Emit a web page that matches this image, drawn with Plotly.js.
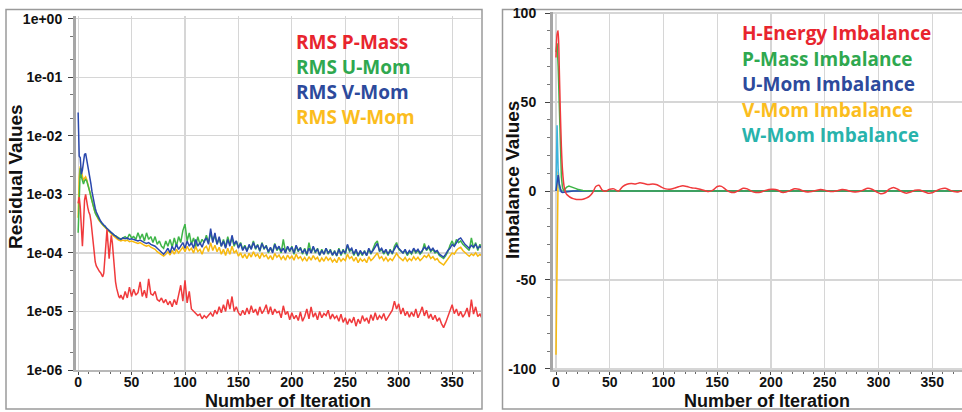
<!DOCTYPE html>
<html>
<head>
<meta charset="utf-8">
<script src="https://cdn.plot.ly/plotly-3.0.1.min.js"></script>
<style>html,body{margin:0;padding:0;background:#fff;}#chart{width:962px;height:412px;}</style>
</head>
<body>
<div id="chart"></div>
<script>
// ---------- Left panel: RMS residuals ----------
const iterL = [0,1,2,3,4,5,6,7,8,9,10,11,12,13,14,15,16,17,18,19,20,21,22,23,24,25,26,27,28,29,30,31,32,33,34,35,36,37,38,39,40,
42,44,46,48,50,52,54,56,58,60,
62,64,66,68,70,72,74,76,78,80,
82,84,86,88,90,92,94,96,98,100,
102,104,106,108,110,112,114,116,118,120,
122,124,126,128,130,132,134,136,138,140,
142,144,146,148,150,152,154,156,158,160,
162,164,166,168,170,172,174,176,178,180,
182,184,186,188,190,192,194,196,198,200,
202,204,206,208,210,212,214,216,218,220,
222,224,226,228,230,232,234,236,238,240,
242,244,246,248,250,252,254,256,258,260,
262,264,266,268,270,272,274,276,278,280,
282,284,286,288,290,292,294,296,298,300,
302,304,306,308,310,312,314,316,318,320,
322,324,326,328,330,332,334,336,338,340,
342,344,346,348,350,352,354,356,358,360,
362,364,366,368,370,372,374,376,378];

const rmsPMass = [7e-4,9e-4,6e-4,2.5e-4,1.3e-4,3e-4,8e-4,1.0e-3,7e-4,6e-4,
5e-4,4.5e-4,3.5e-4,2.2e-4,1.3e-4,9e-5,7e-5,6e-5,5.5e-5,5e-5,
4.8e-5,4.6e-5,4.2e-5,3.9e-5,4.5e-5,9e-5,1.6e-4,2.5e-4,1.4e-4,8e-5,
1.3e-4,2.0e-4,1.5e-4,8e-5,4.5e-5,3.2e-5,2.5e-5,2.0e-5,1.8e-5,1.7e-5,
1.9e-5,
1.6e-5,2.2e-5,1.7e-5,2.6e-5,1.8e-5,2.4e-5,1.9e-5,2.1e-5,3.2e-5,1.8e-5,
2.3e-5,1.7e-5,3.6e-5,2.0e-5,1.9e-5,2.2e-5,1.6e-5,1.5e-5,1.7e-5,1.4e-5,
1.6e-5,1.3e-5,1.5e-5,1.2e-5,1.6e-5,1.3e-5,1.9e-5,2.8e-5,1.5e-5,3.4e-5,
1.4e-5,2.2e-5,1.1e-5,1.0e-5,9.5e-6,8.5e-6,9e-6,7.5e-6,8.5e-6,7.8e-6,
8.6e-6,9.5e-6,8.2e-6,1.05e-5,9e-6,1.2e-5,9.5e-6,1.3e-5,1.0e-5,1.6e-5,
1.1e-5,1.8e-5,1.0e-5,1.2e-5,9.5e-6,8.5e-6,1.05e-5,8.8e-6,1.15e-5,9e-6,
1.25e-5,9.5e-6,1.1e-5,8.6e-6,1.2e-5,9.2e-6,1.05e-5,1.3e-5,9e-6,1.2e-5,
8.8e-6,1.1e-5,9.5e-6,1.0e-5,7.8e-6,1.25e-5,8.8e-6,1.0e-5,7.2e-6,9.5e-6,
7.5e-6,8.6e-6,7e-6,9.8e-6,6.8e-6,8.2e-6,1.1e-5,7.5e-6,1.2e-5,8e-6,
9.5e-6,7.2e-6,1.0e-5,7.8e-6,9.2e-6,8.5e-6,1.05e-5,7.4e-6,9e-6,7.6e-6,
8.4e-6,6.8e-6,9e-6,6.5e-6,7.8e-6,6e-6,7.5e-6,6.4e-6,8e-6,5.6e-6,
7.4e-6,6.2e-6,8.5e-6,6.8e-6,7.8e-6,6.2e-6,8.8e-6,7e-6,9.5e-6,7.2e-6,
8.5e-6,7.6e-6,9.2e-6,7e-6,8e-6,9e-6,1.05e-5,1.5e-5,1.1e-5,1.35e-5,
9e-6,1.15e-5,8.5e-6,1.0e-5,8e-6,9.8e-6,8.2e-6,1.1e-5,7.8e-6,9.5e-6,
1.2e-5,8.4e-6,1.05e-5,7.6e-6,9e-6,7.2e-6,8.6e-6,6.8e-6,7.8e-6,6.2e-6,
5.3e-6,6.5e-6,8.2e-6,9.5e-6,1.3e-5,9.2e-6,1.1e-5,8.4e-6,1.0e-5,8e-6,
9.2e-6,1.15e-5,8e-6,1.6e-5,9e-6,1.2e-5,8.2e-6,9e-6,7.6e-6];

const rmsUMom = [2.2e-4,1.5e-3,2.8e-3,2.0e-3,1.6e-3,1.5e-3,1.7e-3,1.8e-3,1.7e-3,1.5e-3,
1.3e-3,1.1e-3,9e-4,7.5e-4,6.2e-4,5.4e-4,4.8e-4,4.4e-4,4.1e-4,3.8e-4,
3.6e-4,3.4e-4,3.2e-4,3.05e-4,2.95e-4,2.85e-4,2.75e-4,2.6e-4,2.5e-4,2.4e-4,
2.3e-4,2.2e-4,2.15e-4,2.05e-4,2.0e-4,1.95e-4,1.9e-4,1.85e-4,1.8e-4,1.75e-4,
1.72e-4,
1.8e-4,1.9e-4,1.75e-4,2.1e-4,1.8e-4,1.9e-4,1.7e-4,2.2e-4,1.75e-4,2.1e-4,
1.6e-4,2.2e-4,1.7e-4,1.9e-4,1.5e-4,1.9e-4,1.4e-4,1.6e-4,1.3e-4,1.2e-4,
1.6e-4,1.3e-4,1.7e-4,1.25e-4,1.8e-4,1.3e-4,1.9e-4,1.5e-4,2.4e-4,3.1e-4,
1.6e-4,2.2e-4,1.4e-4,1.8e-4,1.3e-4,1.9e-4,1.4e-4,1.7e-4,1.5e-4,2.0e-4,
1.5e-4,2.2e-4,1.6e-4,2.0e-4,1.4e-4,1.8e-4,1.3e-4,1.7e-4,1.25e-4,1.9e-4,
1.4e-4,1.8e-4,1.3e-4,1.6e-4,1.25e-4,1.5e-4,1.15e-4,1.35e-4,1.1e-4,1.3e-4,
1.2e-4,1.6e-4,1.15e-4,1.4e-4,1.05e-4,1.5e-4,1.15e-4,1.35e-4,1.0e-4,1.2e-4,
1.05e-4,1.45e-4,1.1e-4,1.25e-4,1.0e-4,1.7e-4,1.05e-4,1.25e-4,1.05e-4,1.3e-4,
9.5e-5,1.3e-4,1.05e-4,1.25e-4,9.5e-5,1.2e-4,9e-5,1.5e-4,1.0e-4,1.25e-4,
1.0e-4,1.2e-4,9e-5,1.15e-4,9.5e-5,1.2e-4,9.5e-5,1.15e-4,9e-5,1.1e-4,
8.8e-5,1.2e-4,9e-5,1.15e-4,9.5e-5,1.35e-4,1.05e-4,1.15e-4,9e-5,1.1e-4,
8.8e-5,1.05e-4,9e-5,1.1e-4,9e-5,1.15e-4,9.5e-5,1.2e-4,1.45e-4,1.6e-4,
1.05e-4,1.15e-4,9.5e-5,1.1e-4,9e-5,1.15e-4,9.5e-5,1.3e-4,1.5e-4,1.15e-4,
1.05e-4,1.0e-4,1.1e-4,9e-5,1.05e-4,9.5e-5,1.15e-4,1.0e-4,1.1e-4,9.5e-5,
1.05e-4,1.45e-4,1.1e-4,1.25e-4,1.05e-4,1.15e-4,1.0e-4,1.05e-4,9e-5,8.5e-5,
8e-5,9e-5,1.05e-4,1.35e-4,1.6e-4,1.3e-4,1.7e-4,1.5e-4,1.6e-4,1.4e-4,
1.3e-4,1.2e-4,1.1e-4,1.8e-4,1.2e-4,1.5e-4,1.1e-4,1.4e-4,1.15e-4];

const rmsVMom = [2.5e-2,4.5e-3,4.2e-3,2.2e-3,2.6e-3,3.8e-3,4.8e-3,5.0e-3,4.0e-3,3.0e-3,
2.4e-3,2.0e-3,1.5e-3,1.1e-3,8.5e-4,7.0e-4,5.8e-4,5.0e-4,4.5e-4,4.1e-4,
3.8e-4,3.5e-4,3.3e-4,3.1e-4,3.0e-4,2.9e-4,2.8e-4,2.6e-4,2.5e-4,2.4e-4,
2.3e-4,2.2e-4,2.1e-4,2.05e-4,2.0e-4,1.95e-4,1.85e-4,1.8e-4,1.75e-4,1.72e-4,
1.7e-4,
1.8e-4,1.75e-4,1.8e-4,1.7e-4,1.75e-4,1.7e-4,1.65e-4,1.6e-4,1.65e-4,1.55e-4,
1.5e-4,1.45e-4,1.5e-4,1.4e-4,1.35e-4,1.3e-4,1.2e-4,1.1e-4,1.0e-4,9.5e-5,
1.05e-4,1.2e-4,1.0e-4,1.3e-4,1.1e-4,1.4e-4,1.15e-4,1.3e-4,1.5e-4,1.2e-4,
1.6e-4,1.3e-4,1.5e-4,1.2e-4,1.7e-4,1.3e-4,1.5e-4,1.25e-4,1.6e-4,1.8e-4,
1.4e-4,2.6e-4,1.5e-4,2.2e-4,1.4e-4,1.9e-4,1.3e-4,1.6e-4,1.2e-4,1.7e-4,
1.3e-4,2.0e-4,1.4e-4,1.6e-4,1.2e-4,1.45e-4,1.1e-4,1.3e-4,1.05e-4,1.4e-4,
1.15e-4,1.5e-4,1.2e-4,1.35e-4,1.1e-4,1.45e-4,1.2e-4,1.3e-4,1.05e-4,1.25e-4,
1.0e-4,1.4e-4,1.15e-4,1.3e-4,1.05e-4,1.2e-4,1.0e-4,1.3e-4,1.1e-4,1.25e-4,
1.0e-4,1.35e-4,1.1e-4,1.2e-4,1.0e-4,1.15e-4,9.5e-5,1.2e-4,1.0e-4,1.3e-4,
1.05e-4,1.15e-4,9.2e-5,1.1e-4,9.5e-5,1.2e-4,1.0e-4,1.1e-4,9.2e-5,1.05e-4,
9e-5,1.15e-4,9.5e-5,1.1e-4,1.0e-4,1.4e-4,1.1e-4,1.2e-4,9.5e-5,1.15e-4,
9e-5,1.1e-4,9.5e-5,1.05e-4,9e-5,1.2e-4,1.0e-4,1.1e-4,1.3e-4,1.45e-4,
1.1e-4,1.2e-4,1.0e-4,1.15e-4,9.5e-5,1.1e-4,1.0e-4,1.2e-4,1.35e-4,1.2e-4,
1.1e-4,1.0e-4,1.15e-4,9.5e-5,1.1e-4,1.0e-4,1.2e-4,1.05e-4,1.15e-4,1.0e-4,
1.1e-4,1.25e-4,1.15e-4,1.3e-4,1.1e-4,1.2e-4,1.05e-4,1.1e-4,9.5e-5,9e-5,
8.5e-5,9.5e-5,1.1e-4,1.2e-4,1.4e-4,1.3e-4,1.5e-4,1.7e-4,1.8e-4,1.55e-4,
1.4e-4,1.3e-4,1.2e-4,1.35e-4,1.25e-4,1.4e-4,1.2e-4,1.3e-4,1.2e-4];

const rmsWMom = [4e-4,2.0e-3,3.0e-3,2.4e-3,1.9e-3,1.7e-3,1.9e-3,2.0e-3,1.8e-3,1.5e-3,
1.3e-3,1.1e-3,9.5e-4,7.8e-4,6.4e-4,5.5e-4,4.9e-4,4.4e-4,4.0e-4,3.7e-4,
3.5e-4,3.3e-4,3.1e-4,2.95e-4,2.85e-4,2.75e-4,2.65e-4,2.5e-4,2.4e-4,2.3e-4,
2.2e-4,2.1e-4,2.0e-4,1.95e-4,1.9e-4,1.85e-4,1.75e-4,1.7e-4,1.65e-4,1.6e-4,
1.6e-4,
1.65e-4,1.6e-4,1.65e-4,1.55e-4,1.6e-4,1.55e-4,1.5e-4,1.45e-4,1.5e-4,1.4e-4,
1.35e-4,1.3e-4,1.35e-4,1.25e-4,1.2e-4,1.15e-4,1.05e-4,9.8e-5,9.2e-5,8.8e-5,
9.5e-5,1.05e-4,9.2e-5,1.1e-4,9.5e-5,1.15e-4,1.0e-4,1.1e-4,1.25e-4,1.05e-4,
1.3e-4,1.1e-4,1.2e-4,1.0e-4,1.3e-4,1.05e-4,1.15e-4,9.5e-5,1.2e-4,1.3e-4,
1.05e-4,1.5e-4,1.1e-4,1.35e-4,1.05e-4,1.25e-4,9.5e-5,1.15e-4,9e-5,1.2e-4,
9.5e-5,1.3e-4,1.0e-4,1.1e-4,8.8e-5,1.0e-4,8.2e-5,9.5e-5,8e-5,9.8e-5,
8.5e-5,1.05e-4,8.8e-5,9.5e-5,8e-5,1.0e-4,8.6e-5,9.2e-5,7.8e-5,9e-5,
7.6e-5,9.8e-5,8.4e-5,9.2e-5,7.8e-5,8.8e-5,7.5e-5,9.2e-5,8e-5,8.8e-5,
7.5e-5,9.5e-5,8e-5,8.6e-5,7.4e-5,8.4e-5,7.2e-5,8.6e-5,7.5e-5,9e-5,
7.8e-5,8.4e-5,7e-5,8.2e-5,7.2e-5,8.6e-5,7.5e-5,8.2e-5,7e-5,7.8e-5,
6.8e-5,8.4e-5,7.2e-5,8e-5,7.4e-5,9.5e-5,8e-5,8.6e-5,7.2e-5,8.4e-5,
6.8e-5,8e-5,7.2e-5,7.8e-5,6.8e-5,8.6e-5,7.4e-5,8e-5,9.2e-5,1.0e-4,
8e-5,8.6e-5,7.4e-5,8.4e-5,7.2e-5,8e-5,7.4e-5,8.6e-5,9.8e-5,8.6e-5,
8e-5,7.4e-5,8.4e-5,7.2e-5,8e-5,7.4e-5,8.6e-5,7.6e-5,8.4e-5,7.4e-5,
8e-5,9e-5,8.4e-5,9.4e-5,8e-5,8.6e-5,7.6e-5,8e-5,7e-5,6.6e-5,
6.2e-5,7e-5,8e-5,8.8e-5,1.0e-4,9.5e-5,1.1e-4,1.2e-4,1.25e-4,1.1e-4,
1.0e-4,9.4e-5,8.8e-5,9.6e-5,9e-5,1.0e-4,8.8e-5,9.4e-5,8.8e-5];

// ---------- Right panel: imbalances ----------
const iterH = [0,1,2,3,4,5,6,7,8,9,10,12,14,16,18,20,22,25,28,31,34,37,40,43,46,
50,54,58,62,66,70,74,78,82,86,
90,94,98,102,106,110,114,118,122,126,
130,134,138,142,146,150,154,158,162,166,
170,174,178,182,186,190,194,198,202,206,
210,214,218,222,226,230,234,238,242,246,
250,254,258,262,266,270,274,278,282,286,
290,294,298,302,306,310,314,318,322,326,
330,334,338,342,346,350,354,358,362,366,
370,374,378];
const hEnergy = [75,88,90,70,45,25,12,5,1,-1,-2,-3,-3.8,-4.3,-4.6,-4.8,-4.8,-4.6,-4.0,-3.0,-1.0,2.5,3.2,0.5,-0.2,
1.0,1.2,-0.2,2.5,3.8,4.2,4.0,4.6,4.2,3.6,
4.0,3.5,2.2,1.2,1.0,1.6,2.4,3.0,2.5,1.8,
1.5,1.0,0.3,-0.3,0.5,2.5,2.6,0.8,-0.6,-0.8,
0.3,1.5,1.2,-0.2,-0.8,-0.7,0.2,0.9,1.0,0.6,
-0.7,-0.6,0.3,1.2,1.0,0.0,-0.5,-0.3,0.3,0.8,
0.5,-0.2,-0.3,0.2,0.8,0.6,-0.2,-0.5,-0.3,0.6,
1.5,1.0,-0.5,-1.5,-1.0,1.0,2.0,1.0,-0.5,-1.2,
-0.6,0.4,0.5,-0.3,-1.2,-1.0,0.2,1.2,1.5,0.6,
-0.3,-0.5,0.2];

const iterS = [0,1,2,3,4,5,6,7,8,9,10,12,14,16,18,20,22,25,30,40,378];
const pMassImb = [78,83,70,45,22,8,2,0.5,0.8,1.5,2.2,2.8,2.5,2.0,1.5,1.0,0.6,0.3,0.1,0,0];
const uMomImb  = [0,6,9,4,1,-0.5,-0.8,-0.7,-0.5,-0.3,-0.2,-0.1,0,0,0,0,0,0,0,0,0];
const vMomImb  = [-92,-30,11,4,1,0.3,0,0,0,0,0,0,0,0,0,0,0,0,0,0,0];
const wMomImb  = [0,37,12,2,0,0,0,0,0,0,0,0,0,0,0,0,0,0,0,0,0];

const legendL = ['RMS P-Mass','RMS U-Mom','RMS V-Mom','RMS W-Mom'];
const legendR = ['H-Energy Imbalance','P-Mass Imbalance','U-Mom Imbalance','V-Mom Imbalance','W-Mom Imbalance'];
const xTicks = [0,50,100,150,200,250,300,350];
const yTicksL = [1e-6,1e-5,1e-4,1e-3,1e-2,1e-1,1];
const yTickTextL = ['1e-06','1e-05','1e-04','1e-03','1e-02','1e-01','1e+00'];
const yTicksR = [-100,-50,0,50,100];

// ---------- styles ----------
const bold = a => a.map(v => '<b>' + v + '</b>');
const cRed='#f03a3c', cGreen='#3fb548', cBlue='#2a48ad', cYellow='#f7b90f', cCyan='#3cb3dc';
const txtRed='#e8252e', txtGreen='#2fa84f', txtBlue='#2d4a9c', txtYellow='#fbbd1e', txtTeal='#28b3ac';
const W=962, H=412;
const px = v => v/W, py = v => 1 - v/H;
const tickFont = {family:'"Liberation Sans", Arial, sans-serif', size:14, color:'#111', weight:700};
const titleFont = {family:'"Liberation Sans Narrow","Liberation Sans",Arial,sans-serif', size:18, color:'#111', weight:700};
const legFont = (c)=>({family:'"Open Sans","Noto Sans",sans-serif', size:19, color:c, weight:700});

const traces = [
  {x:iterL, y:rmsWMom, type:'scatter', mode:'lines', line:{color:cYellow,width:1.5}, xaxis:'x', yaxis:'y', name:legendL[3]},
  {x:iterL, y:rmsUMom, type:'scatter', mode:'lines', line:{color:cGreen,width:1.5}, xaxis:'x', yaxis:'y', name:legendL[1]},
  {x:iterL, y:rmsVMom, type:'scatter', mode:'lines', line:{color:cBlue,width:1.5}, xaxis:'x', yaxis:'y', name:legendL[2]},
  {x:iterL, y:rmsPMass, type:'scatter', mode:'lines', line:{color:cRed,width:1.5}, xaxis:'x', yaxis:'y', name:legendL[0]},
  {x:iterS, y:vMomImb, type:'scatter', mode:'lines', line:{color:cYellow,width:1.5}, xaxis:'x2', yaxis:'y2', name:legendR[3]},
  {x:iterS, y:wMomImb, type:'scatter', mode:'lines', line:{color:cCyan,width:1.5}, xaxis:'x2', yaxis:'y2', name:legendR[4]},
  {x:iterS, y:uMomImb, type:'scatter', mode:'lines', line:{color:cBlue,width:1.5}, xaxis:'x2', yaxis:'y2', name:legendR[2]},
  {x:iterS, y:pMassImb, type:'scatter', mode:'lines', line:{color:cGreen,width:1.5}, xaxis:'x2', yaxis:'y2', name:legendR[1]},
  {x:iterH, y:hEnergy, type:'scatter', mode:'lines', line:{color:cRed,width:1.5, shape:'spline', smoothing:0.6}, xaxis:'x2', yaxis:'y2', name:legendR[0]}
];

const xCommon = {
  tickvals:xTicks, ticktext:bold(xTicks), ticks:'outside', ticklen:3, tickwidth:1, tickcolor:'#444',
  showline:true, linecolor:'#b8b8b8', linewidth:2,
  showgrid:true, gridcolor:'#d6d6d6', gridwidth:1.2, zeroline:false,
  tickfont:tickFont, ticklabelstandoff:-5,
  minor:{dtick:10, ticks:'outside', ticklen:2, tickcolor:'#666', showgrid:false}
};

const layout = {
  width:W, height:H,
  margin:{l:0,r:0,t:0,b:0},
  paper_bgcolor:'#ffffff', plot_bgcolor:'#ffffff',
  showlegend:false,
  xaxis: Object.assign({}, xCommon, {domain:[px(76), px(481)], range:[-2, 377], anchor:'y'}),
  yaxis: {
    type:'log', range:[-6.0, 0.046], domain:[py(370), py(16)], anchor:'x',
    tickvals:yTicksL, ticktext:bold(yTickTextL), ticks:'outside', ticklen:5, tickcolor:'#444',
    showline:true, linecolor:'#a6a6a6', linewidth:3,
    showgrid:true, gridcolor:'#d6d6d6', gridwidth:1.2, zeroline:false,
    tickfont:tickFont, ticklabelstandoff:3,
    minor:{tickvals:[2e-6,5e-6,2e-5,5e-5,2e-4,5e-4,2e-3,5e-3,2e-2,5e-2,2e-1,5e-1], ticks:'outside', ticklen:3, tickcolor:'#777', showgrid:false}
  },
  xaxis2: Object.assign({}, xCommon, {domain:[px(553), 1], range:[-2.8, 377.7], anchor:'y2'}),
  yaxis2: {
    range:[-100.6, 100.6], domain:[py(370), py(12)], anchor:'x2',
    tickvals:yTicksR, ticktext:bold(yTicksR), ticks:'outside', ticklen:5, tickcolor:'#444',
    showline:true, linecolor:'#a6a6a6', linewidth:3,
    showgrid:true, gridcolor:'#d6d6d6', gridwidth:1.2, zeroline:false,
    tickfont:tickFont, ticklabelstandoff:6,
    minor:{dtick:10, ticks:'outside', ticklen:3, tickcolor:'#777', showgrid:false}
  },
  shapes:[
    {type:'rect', xref:'paper', yref:'paper', x0:px(6), x1:px(482), y0:py(409), y1:py(9.5), line:{color:'#9a9a9a', width:1.5}, fillcolor:'rgba(0,0,0,0)', layer:'below'},
    {type:'rect', xref:'paper', yref:'paper', x0:px(502.5), x1:px(975), y0:py(409), y1:py(9.5), line:{color:'#9a9a9a', width:1.5}, fillcolor:'rgba(0,0,0,0)', layer:'below'}
  ],
  annotations:[
    {text:'Residual Values', xref:'paper', yref:'paper', x:px(16), y:py(177), textangle:-90, showarrow:false, font:Object.assign({}, titleFont, {size:19}), xanchor:'center', yanchor:'middle'},
    {text:'Number of Iteration', xref:'paper', yref:'paper', x:px(288), y:py(400.5), showarrow:false, font:titleFont, xanchor:'center', yanchor:'middle', borderpad:0},
    {text:'Imbalance Values', xref:'paper', yref:'paper', x:px(512), y:py(180), textangle:-90, showarrow:false, font:Object.assign({}, titleFont, {size:19}), xanchor:'center', yanchor:'middle'},
    {text:'Number of Iteration', xref:'paper', yref:'paper', x:px(767), y:py(400.5), showarrow:false, font:titleFont, xanchor:'center', yanchor:'middle', borderpad:0},
    {text:legendL[0], xref:'paper', yref:'paper', x:px(294), y:py(42), xanchor:'left', yanchor:'middle', showarrow:false, font:legFont(txtRed)},
    {text:legendL[1], xref:'paper', yref:'paper', x:px(294), y:py(67), xanchor:'left', yanchor:'middle', showarrow:false, font:legFont(txtGreen)},
    {text:legendL[2], xref:'paper', yref:'paper', x:px(294), y:py(92), xanchor:'left', yanchor:'middle', showarrow:false, font:legFont(txtBlue)},
    {text:legendL[3], xref:'paper', yref:'paper', x:px(294), y:py(117), xanchor:'left', yanchor:'middle', showarrow:false, font:legFont(txtYellow)},
    {text:legendR[0], xref:'paper', yref:'paper', x:px(740), y:py(33), xanchor:'left', yanchor:'middle', showarrow:false, font:legFont(txtRed)},
    {text:legendR[1], xref:'paper', yref:'paper', x:px(740), y:py(59), xanchor:'left', yanchor:'middle', showarrow:false, font:legFont(txtGreen)},
    {text:legendR[2], xref:'paper', yref:'paper', x:px(740), y:py(84), xanchor:'left', yanchor:'middle', showarrow:false, font:legFont(txtBlue)},
    {text:legendR[3], xref:'paper', yref:'paper', x:px(740), y:py(110), xanchor:'left', yanchor:'middle', showarrow:false, font:legFont(txtYellow)},
    {text:legendR[4], xref:'paper', yref:'paper', x:px(740), y:py(135), xanchor:'left', yanchor:'middle', showarrow:false, font:legFont(txtTeal)}
  ]
};

Plotly.newPlot('chart', traces, layout, {staticPlot:true, displayModeBar:false});
</script>
</body>
</html>
